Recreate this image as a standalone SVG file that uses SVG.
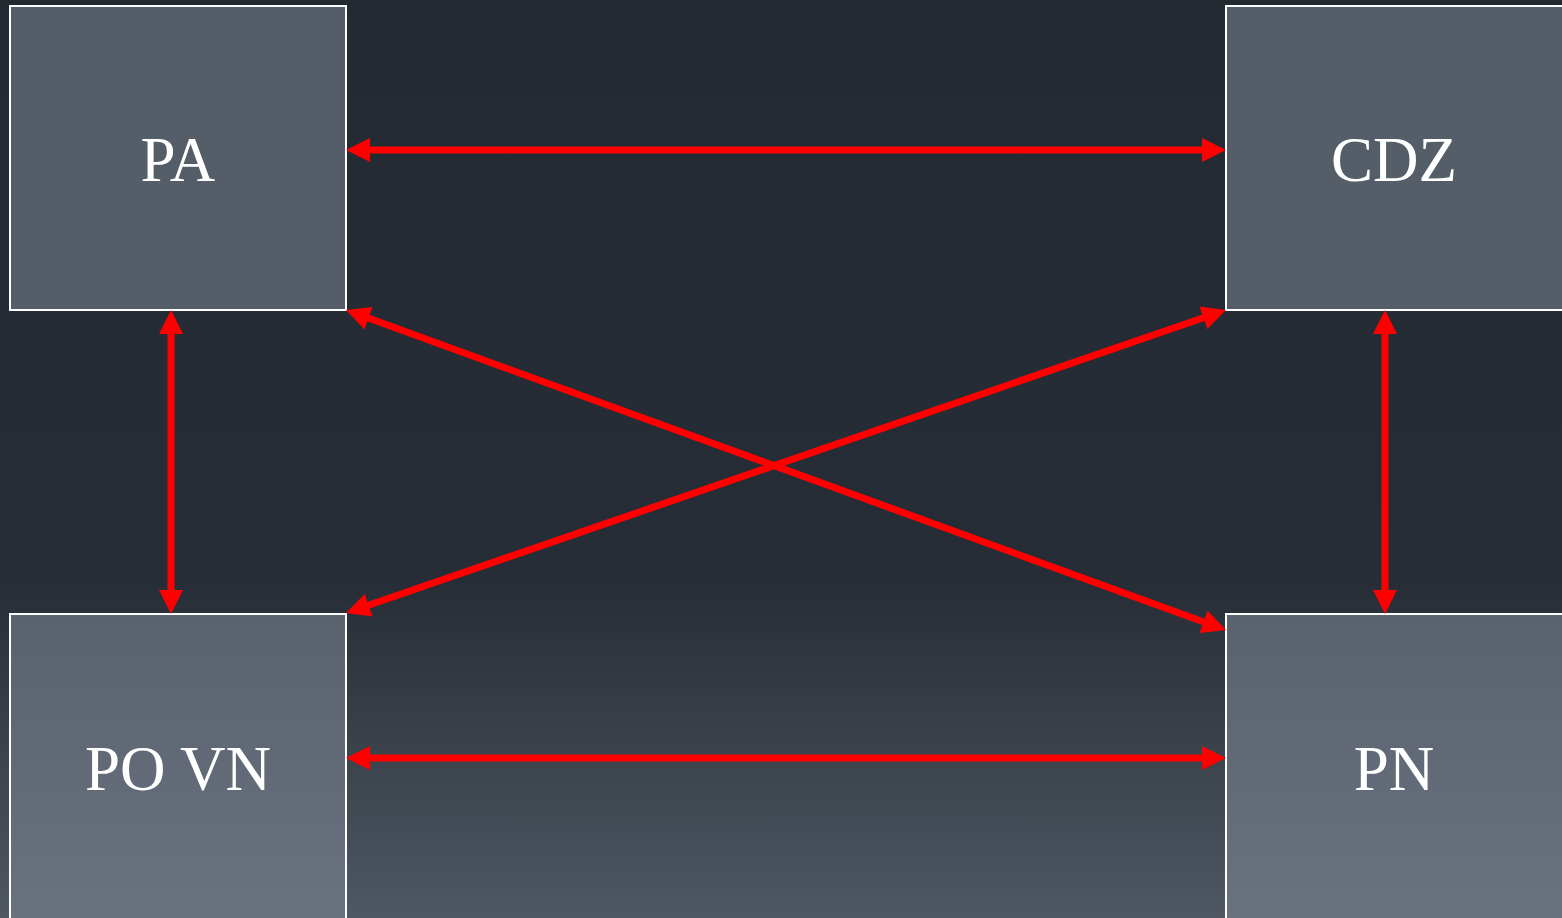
<svg xmlns="http://www.w3.org/2000/svg" width="1562" height="918" viewBox="0 0 1562 918">
<style>
.box{stroke:#ffffff;stroke-width:2}
.top{fill:#545d68}
.bot{fill:url(#gbox)}
.lbl{font-size:63px;fill:#ffffff;text-anchor:middle}
.con{stroke:#ff0000;stroke-width:7;fill:none;marker-start:url(#ah);marker-end:url(#ah)}
</style>
<defs>
<linearGradient id="gbg" x1="0" y1="0" x2="0" y2="1">
<stop offset="0" stop-color="#242a32"/>
<stop offset="0.63" stop-color="#272d36"/>
<stop offset="1" stop-color="#4e5762"/>
</linearGradient>
<linearGradient id="gbox" x1="0" y1="0" x2="0" y2="1">
<stop offset="0" stop-color="#59626d"/>
<stop offset="1" stop-color="#69727f"/>
</linearGradient>
<marker id="ah" markerUnits="userSpaceOnUse" markerWidth="24" markerHeight="24" refX="4" refY="12" orient="auto-start-reverse" viewBox="0 0 24 24">
<path d="M0,0 L24,12 L0,24 z" fill="#ff0000"/>
</marker>
</defs>
<rect x="0" y="0" width="1562" height="918" fill="url(#gbg)"/>
<g font-family="Liberation Serif, Times New Roman, Times, serif">
<g id="PA"><rect class="box top" x="10" y="6" width="336" height="304"/><text class="lbl" x="178" y="181">PA</text></g>
<g id="CDZ"><rect class="box top" x="1226" y="6" width="340" height="304"/><text class="lbl" x="1394" y="181">CDZ</text></g>
<g id="POVN"><rect class="box bot" x="10" y="614" width="336" height="310"/><text class="lbl" x="178" y="790">PO VN</text></g>
<g id="PN"><rect class="box bot" x="1226" y="614" width="340" height="310"/><text class="lbl" x="1394" y="790">PN</text></g>
</g>
<g id="connectors">
<line class="con" x1="366" y1="150" x2="1206" y2="150"/>
<line class="con" x1="366" y1="758" x2="1206" y2="758"/>
<line class="con" x1="171" y1="330" x2="171" y2="594"/>
<line class="con" x1="1385" y1="330" x2="1385" y2="594"/>
<line class="con" x1="364.8" y1="316.8" x2="1207.2" y2="623.2"/>
<line class="con" x1="1207.1" y1="316.5" x2="364.9" y2="606.5"/>
</g>
</svg>
